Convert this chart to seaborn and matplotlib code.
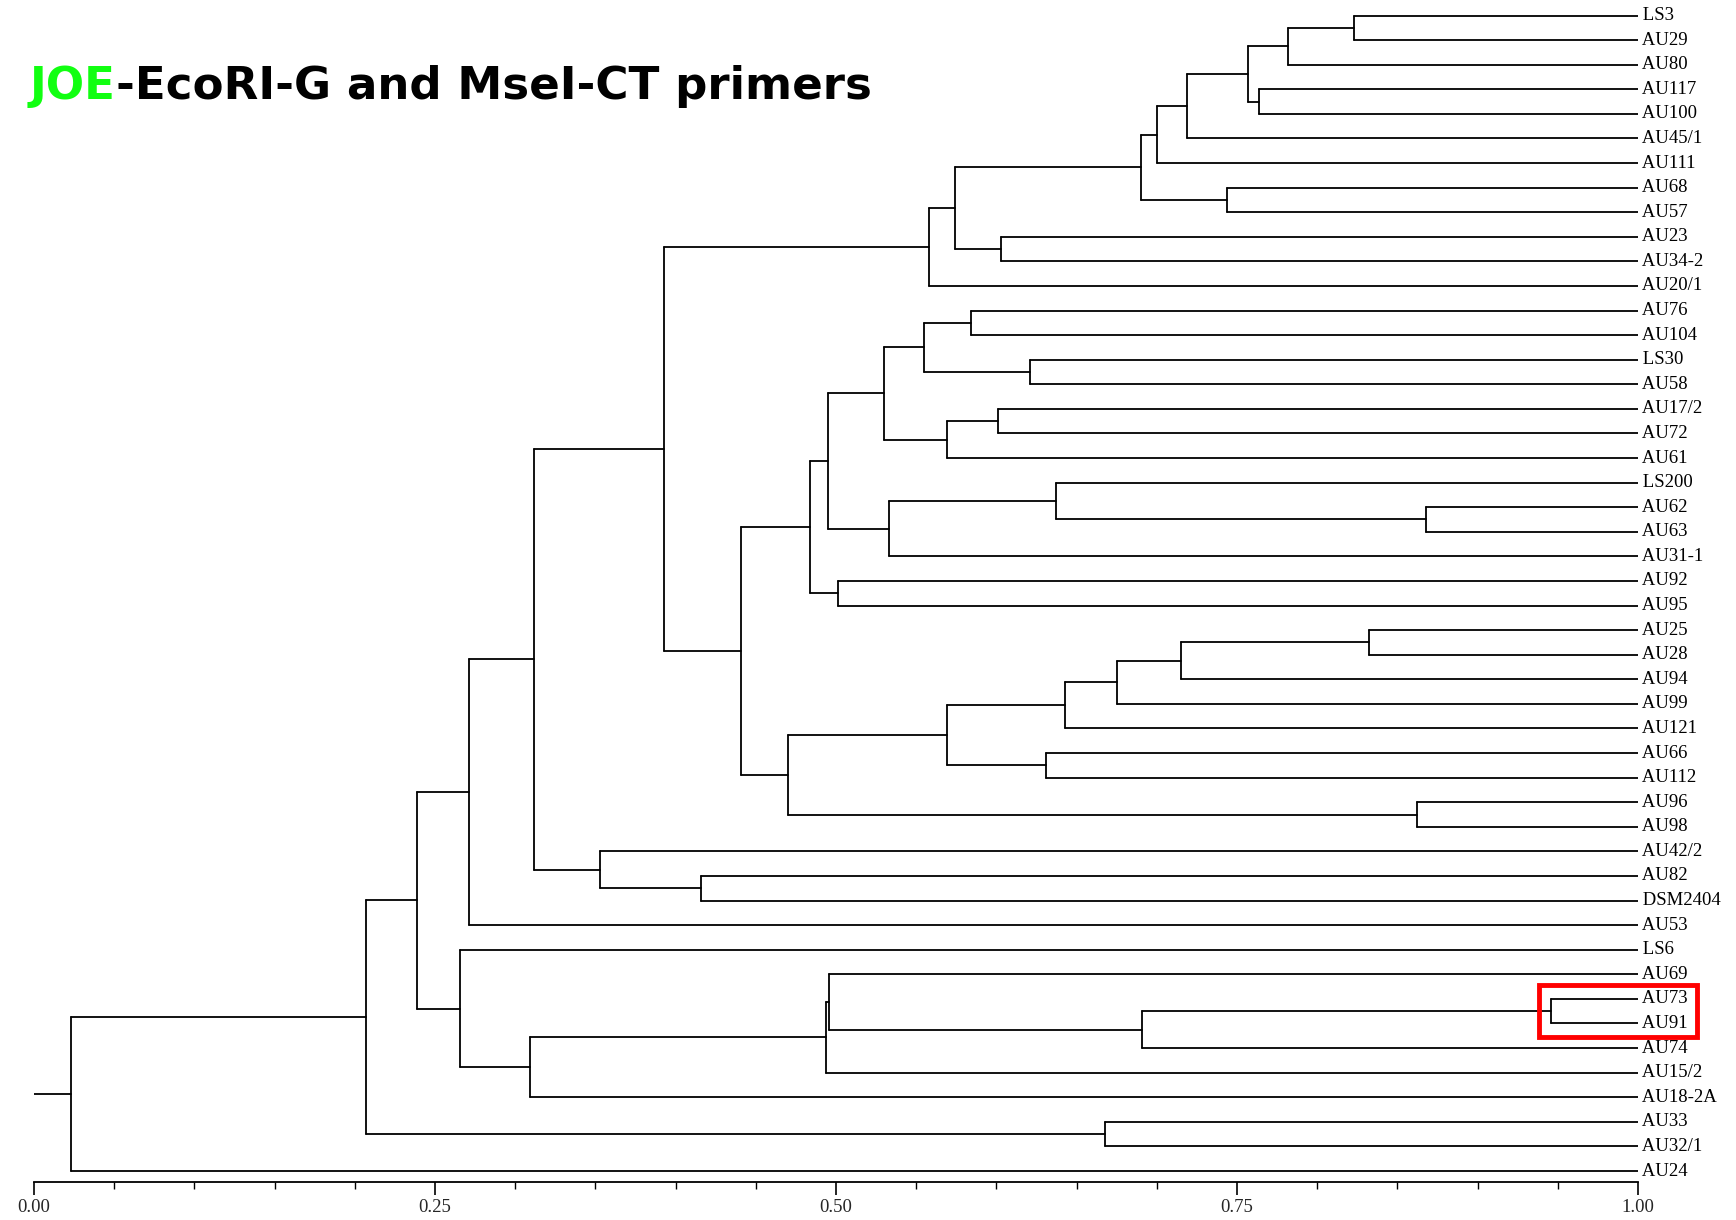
import matplotlib
matplotlib.use("Agg")
import matplotlib.pyplot as plt
import matplotlib.ticker as mticker
from matplotlib.patches import Rectangle
import numpy as np
import pandas as pd
import seaborn as sns

leaves = [
    "LS3", "AU29", "AU80", "AU117", "AU100", "AU45/1", "AU111", "AU68",
    "AU57", "AU23", "AU34-2", "AU20/1", "AU76", "AU104", "LS30", "AU58",
    "AU17/2", "AU72", "AU61", "LS200", "AU62", "AU63", "AU31-1", "AU92",
    "AU95", "AU25", "AU28", "AU94", "AU99", "AU121", "AU66", "AU112",
    "AU96", "AU98", "AU42/2", "AU82", "DSM2404", "AU53", "LS6", "AU69",
    "AU73", "AU91", "AU74", "AU15/2", "AU18-2A", "AU33", "AU32/1", "AU24",
]

# merges: node ids 0..47 are leaves, new nodes numbered from 48 upward
merge_a = [0, 48, 3, 49, 51, 52, 7, 53, 9, 55, 57, 12, 14, 59, 16, 62,
           61, 20, 19, 66, 64, 23, 68, 25, 71, 72, 73, 30, 74, 32, 76, 70,
           58, 35, 34, 80, 83, 40, 85, 39, 87, 88, 38, 84, 45, 91, 93]
merge_b = [1, 2, 4, 50, 5, 6, 8, 54, 10, 56, 11, 13, 15, 60, 17, 18,
           63, 21, 65, 22, 67, 24, 69, 26, 27, 28, 29, 31, 75, 33, 77, 78,
           79, 36, 81, 82, 37, 41, 42, 86, 43, 44, 89, 90, 46, 92, 47]
merge_sim = [0.823, 0.782, 0.764, 0.757, 0.719, 0.700, 0.744, 0.690,
             0.603, 0.574, 0.558, 0.584, 0.621, 0.555, 0.601, 0.569,
             0.530, 0.868, 0.637, 0.533, 0.495, 0.501, 0.484, 0.832,
             0.715, 0.675, 0.643, 0.631, 0.569, 0.862, 0.470, 0.441,
             0.393, 0.416, 0.353, 0.312, 0.271, 0.946, 0.691, 0.4955,
             0.4935, 0.309, 0.2655, 0.2385, 0.668, 0.207, 0.0228]

highlight = ["AU73", "AU91"]

sns.set_theme(style="white")
plt.rcParams["font.family"] = ["Liberation Serif", "DejaVu Serif"]

# build segments of the dendrogram
node_x = {i: 1.0 for i in range(len(leaves))}
node_y = {i: float(i) for i in range(len(leaves))}
rows = []
seg = 0
for k, (a, b, s) in enumerate(zip(merge_a, merge_b, merge_sim)):
    nid = len(leaves) + k
    for c in (a, b):
        rows += [(seg, node_x[c], node_y[c]), (seg, s, node_y[c])]
        seg += 1
    rows += [(seg, s, node_y[a]), (seg, s, node_y[b])]
    seg += 1
    node_x[nid] = s
    node_y[nid] = (node_y[a] + node_y[b]) / 2
root = len(leaves) + len(merge_a) - 1
rows += [(seg, node_x[root], node_y[root]), (seg, 0.0, node_y[root])]
segs = pd.DataFrame(rows, columns=["seg", "x", "y"])

W, H = 1736, 1220
fig = plt.figure(figsize=(W / 100, H / 100), dpi=100)
ax_bottom_px, leaf0_px, leaf_last_px = 1182, 15.5, 1171
step = (leaf_last_px - leaf0_px) / (len(leaves) - 1)
ylow = len(leaves) - 1 + (ax_bottom_px - leaf_last_px) / step
ytop = -0.5
top_px = leaf0_px + ytop * step
ax = fig.add_axes([34 / W, 1 - ax_bottom_px / H, 1604 / W, (ax_bottom_px - top_px) / H])

sns.lineplot(data=segs, x="x", y="y", units="seg", estimator=None, sort=False,
             color="black", lw=1.3, ax=ax, legend=False)

ax.set_xlim(0, 1)
ax.set_ylim(ylow, ytop)
for sp in ("top", "left", "right"):
    ax.spines[sp].set_visible(False)
ax.spines["bottom"].set_color("black")
ax.spines["bottom"].set_linewidth(1.3)
ax.set_yticks([])
ax.set_xlabel("")
ax.set_ylabel("")
ax.xaxis.set_major_locator(mticker.FixedLocator([0, 0.25, 0.5, 0.75, 1.0]))
ax.xaxis.set_major_formatter(mticker.FixedFormatter(["0.00", "0.25", "0.50", "0.75", "1.00"]))
ax.xaxis.set_minor_locator(mticker.MultipleLocator(0.05))
ax.tick_params(axis="x", which="major", direction="out", length=9, width=1.2,
               color="black", labelsize=13.5, pad=3, bottom=True)
ax.tick_params(axis="x", which="minor", direction="out", length=5, width=1.0,
               color="black", bottom=True)

for i, name in enumerate(leaves):
    ax.text(1.0, i, " " + name, ha="left", va="center", fontsize=13.5,
            color="black", clip_on=False)

# red frame around the highlighted pair
i0 = leaves.index(highlight[0])
i1 = leaves.index(highlight[1])
ax.add_patch(Rectangle((0.938, i1 + 0.55), 0.099, -(i1 - i0) - 1.1, fill=False,
                       edgecolor="#ff0000", lw=3.5, clip_on=False, zorder=5))

t1 = fig.text(30 / W, 1 - 99 / H, "JOE", color="#11ff11", fontsize=32.5,
              fontweight="bold", family="DejaVu Sans", va="baseline", ha="left")
ax.annotate("-EcoRI-G and MseI-CT primers", xy=(1, 0), xycoords=t1,
            va="bottom", ha="left", color="black", fontsize=32.5,
            fontweight="bold", family="DejaVu Sans")

fig.savefig("out.png", dpi=100, facecolor="white")
